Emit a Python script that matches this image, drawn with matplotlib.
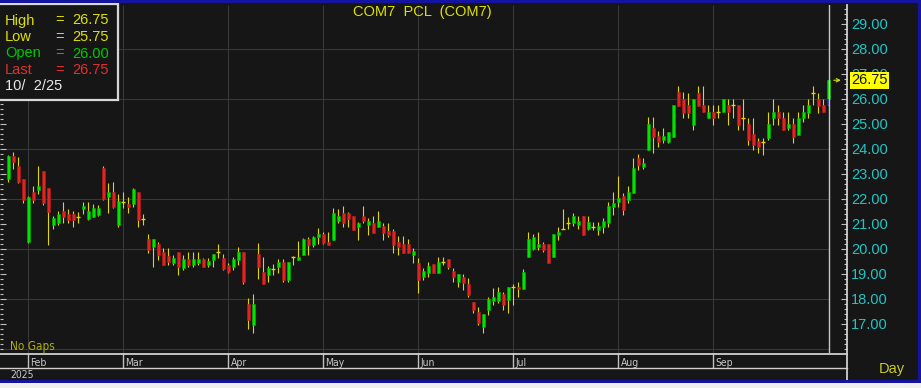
import matplotlib
matplotlib.use('Agg')
import matplotlib.pyplot as plt
from matplotlib.ticker import MultipleLocator, FixedLocator, FormatStrFormatter
from matplotlib.patches import Rectangle
from matplotlib.lines import Line2D
import numpy as np

# ---------------- data ----------------
title = 'COM7  PCL  (COM7)'
months = ['Jan', 'Feb', 'Mar', 'Apr', 'May', 'Jun', 'Jul', 'Aug', 'Sep', 'Oct']
bars_per_month = [4, 19, 21, 19, 19, 19, 21, 19, 22, 2]
year_label = '2025'
price_ticks = [17, 18, 19, 20, 21, 22, 23, 24, 25, 26, 27, 28, 29]
grid_levels = [16, 18, 20, 22, 24, 26, 28]

opens = [22.79, 23.72, 23.32, 22.79, 20.28, 22.29, 22.36, 23.12, 22.43, 20.96,
         21.05, 21.52, 21.40, 21.40, 21.29, 21.59, 21.19, 21.29, 21.36, 23.23,
         22.07, 22.29, 20.96, 21.89, 21.80, 21.79, 22.29, 21.19, 20.40, 20.07,
         20.20, 19.89, 19.72, 19.45, 19.89, 19.25, 19.60, 19.36, 19.45, 19.60,
         19.36, 19.56, 19.89, 19.63, 19.36, 19.27, 19.56, 19.89, 17.80, 16.96,
         19.80, 19.09, 18.96, 19.19, 19.27, 19.49, 18.76, 19.69, 19.56, 19.76,
         20.39, 20.16, 20.47, 20.60, 20.29, 20.36, 21.13, 21.43, 21.43, 21.32,
         20.87, 21.32, 20.96, 21.03, 20.87, 20.92, 20.73, 20.73, 20.29, 20.20,
         20.20, 19.76, 19.43, 18.87, 19.05, 19.40, 19.05, 19.49, 19.59, 19.13,
         18.69, 18.89, 18.60, 17.89, 17.49, 16.87, 17.56, 17.93, 17.93, 18.20,
         17.96, 18.49, 18.49, 18.39, 19.67, 19.99, 20.07, 20.20, 20.20, 19.67,
         20.56, 20.79, 21.03, 21.05, 20.96, 21.32, 20.79, 20.89, 20.76, 20.87,
         21.05, 21.69, 21.89, 22.12, 21.96, 22.25, 23.63, 23.27, 23.96, 24.83,
         24.52, 24.36, 24.29, 24.47, 26.29, 25.99, 25.76, 24.96, 26.25, 25.76,
         25.23, 25.49, 25.49, 25.49, 25.76, 25.76, 25.76, 25.23, 25.00, 24.60,
         24.33, 24.29, 24.43, 25.23, 25.49, 25.23, 24.83, 25.00, 24.56, 25.23,
         25.45, 26.25, 25.99, 25.76, 26.00]
highs = [23.76, 23.89, 23.69, 22.79, 22.12, 22.52, 23.32, 23.12, 22.43, 21.32,
         21.53, 21.89, 21.59, 21.53, 21.49, 21.89, 21.89, 21.80, 21.76, 23.32,
         22.63, 22.69, 22.20, 22.29, 22.09, 22.43, 22.29, 21.40, 20.60, 20.40,
         20.29, 20.03, 20.03, 19.76, 19.89, 19.76, 19.89, 19.89, 19.89, 19.63,
         19.63, 19.80, 20.20, 19.80, 19.43, 19.69, 20.09, 19.89, 18.03, 18.20,
         20.23, 19.69, 19.32, 19.40, 19.59, 19.59, 19.49, 19.72, 20.32, 20.43,
         20.49, 20.52, 20.83, 20.69, 20.69, 21.63, 21.59, 21.72, 21.49, 21.32,
         21.09, 21.72, 21.23, 21.32, 21.53, 21.03, 21.03, 20.79, 20.52, 20.52,
         20.39, 20.03, 19.63, 19.23, 19.49, 19.40, 19.69, 19.69, 19.59, 19.23,
         19.00, 19.00, 18.83, 17.89, 17.69, 17.40, 18.09, 18.43, 18.49, 18.29,
         18.49, 18.60, 18.69, 19.19, 20.69, 20.60, 20.69, 20.29, 20.20, 20.60,
         20.89, 21.59, 21.29, 21.43, 21.32, 21.32, 21.32, 21.09, 21.09, 21.23,
         21.89, 22.29, 22.92, 22.23, 22.52, 23.63, 23.80, 23.63, 25.27, 25.27,
         24.73, 24.83, 24.69, 25.76, 26.52, 26.29, 26.25, 25.99, 26.52, 26.52,
         25.76, 25.76, 25.76, 25.99, 25.99, 25.99, 25.76, 25.99, 25.23, 25.23,
         24.43, 24.43, 25.49, 25.99, 25.76, 25.49, 25.49, 25.23, 25.49, 25.76,
         25.99, 26.52, 26.25, 25.99, 26.75]
lows = [22.68, 23.19, 22.65, 21.85, 20.25, 21.85, 22.20, 21.76, 20.16, 20.79,
        20.96, 21.05, 21.05, 20.87, 21.05, 21.40, 21.16, 21.27, 21.32, 21.96,
        21.45, 21.63, 20.87, 21.63, 21.45, 21.69, 20.87, 20.96, 19.85, 19.27,
        19.56, 19.36, 19.36, 19.36, 18.96, 19.16, 19.29, 19.27, 19.36, 19.27,
        19.27, 19.27, 19.63, 19.16, 19.05, 19.16, 19.36, 18.60, 16.79, 16.65,
        18.79, 18.60, 18.69, 18.96, 19.05, 18.69, 18.69, 19.36, 19.56, 19.76,
        19.76, 20.07, 20.20, 20.20, 20.16, 20.36, 21.05, 20.87, 20.87, 20.76,
        20.36, 21.05, 20.56, 20.65, 20.87, 20.36, 20.47, 19.85, 19.76, 19.85,
        19.85, 19.45, 18.25, 18.76, 18.87, 19.05, 19.05, 19.36, 19.19, 18.69,
        18.47, 18.36, 18.07, 17.45, 16.96, 16.65, 17.36, 17.76, 17.85, 17.56,
        17.45, 17.76, 18.07, 18.39, 19.67, 19.96, 19.96, 19.89, 19.45, 19.67,
        20.36, 20.79, 20.79, 20.92, 20.79, 20.56, 20.76, 20.76, 20.56, 20.65,
        20.87, 21.36, 21.69, 21.36, 21.85, 22.25, 23.16, 23.19, 23.96, 23.85,
        24.07, 24.25, 24.25, 24.47, 25.72, 25.23, 25.23, 24.76, 25.72, 25.49,
        25.23, 24.96, 25.23, 25.49, 24.96, 25.23, 24.76, 24.76, 24.16, 23.96,
        23.85, 23.76, 24.36, 24.96, 24.96, 24.76, 24.76, 24.25, 24.56, 25.09,
        25.23, 25.76, 25.45, 25.49, 25.75]
closes = [23.72, 23.49, 22.69, 21.96, 22.09, 21.96, 22.52, 21.85, 21.49, 21.23,
          21.40, 21.27, 21.16, 21.16, 21.29, 21.72, 21.52, 21.63, 21.63, 21.99,
          22.29, 21.67, 21.92, 21.89, 21.67, 22.39, 21.16, 21.19, 19.96, 20.40,
          19.76, 19.36, 19.49, 19.63, 19.27, 19.59, 19.36, 19.59, 19.60, 19.27,
          19.53, 19.80, 19.89, 19.19, 19.09, 19.59, 19.89, 18.69, 17.16, 17.80,
          19.27, 18.60, 19.23, 19.19, 19.49, 18.76, 19.49, 19.69, 19.69, 20.39,
          20.16, 20.49, 20.60, 20.25, 20.16, 21.43, 21.32, 21.05, 21.19, 20.76,
          21.03, 21.13, 21.13, 20.65, 21.13, 20.65, 20.56, 20.16, 20.07, 19.85,
          19.85, 19.93, 18.76, 19.13, 19.32, 19.05, 19.49, 19.49, 19.27, 18.87,
          19.00, 18.63, 18.16, 17.56, 17.05, 17.40, 18.00, 18.09, 18.29, 17.76,
          18.49, 18.49, 18.39, 19.09, 20.39, 20.49, 20.20, 19.96, 19.45, 20.60,
          20.69, 20.79, 21.03, 21.32, 21.13, 20.56, 21.09, 20.89, 20.92, 21.13,
          21.72, 21.83, 22.03, 21.56, 22.29, 23.23, 23.36, 23.43, 25.00, 24.49,
          24.29, 24.52, 24.69, 25.76, 25.72, 25.45, 25.45, 25.99, 25.72, 25.49,
          25.49, 25.23, 25.49, 25.99, 25.49, 25.76, 24.96, 25.23, 24.36, 24.16,
          24.07, 24.29, 25.00, 25.49, 25.23, 24.76, 25.00, 24.47, 25.23, 25.49,
          25.76, 26.25, 25.72, 25.49, 26.75]
legend_date = '10/  2/25'

# ---------------- style ----------------
W, H = 921, 388
BG = '#161616'
GRID = '#383838'
GREEN = '#00e400'
GREEN_E = '#00b000'
RED = '#e02424'
RED_E = '#b81818'
WICK = '#e2d800'
YEL = '#e0e000'
CYAN = '#22c4c4'
LIGHT = '#d0d0d0'
BLUE = '#1414a0'
NARROW = ['Liberation Sans Narrow', 'DejaVu Sans']

plt.rcParams['font.family'] = ['Liberation Sans', 'DejaVu Sans']

fig = plt.figure(figsize=(W / 100, H / 100), dpi=100, facecolor=BG)


def fx(px):
    return px / W


def fy(py):
    return 1 - py / H


o = np.array(opens)
h = np.array(highs)
l = np.array(lows)
c = np.array(closes)
x = np.arange(len(o))

STEP = 5.0
X0 = 8.3
xmin = -X0 / STEP
xmax = (847 - X0) / STEP

# main price axes
ax = fig.add_axes([0, fy(353), fx(847), fy(5) - fy(353)])
ax.set_facecolor(BG)
ax.set_xlim(xmin, xmax)
ax.set_ylim(29 - (353 - 24) / 25, 29 + (24 - 5) / 25)
for s in ax.spines.values():
    s.set_visible(False)

month_starts = np.cumsum([0] + bars_per_month[:-1])
shown = [i for i in range(1, len(months) - 1)]  # Feb..Sep
now_x = (x[-1] + 0.14)

ax.hlines(grid_levels, xmin, now_x, color=GRID, lw=0.8, zorder=1)
ax.vlines([month_starts[i] for i in shown], *ax.get_ylim(), color=GRID, lw=0.8, zorder=1)

# candles
up = c > o
dn = c < o
eq = c == o
ax.vlines(x, l, h, color=WICK, lw=0.8, zorder=2)
ax.bar(x[up], (c - o)[up], bottom=o[up], width=0.64, color=GREEN,
       edgecolor=GREEN_E, lw=0.4, zorder=3)
ax.bar(x[dn], (o - c)[dn], bottom=c[dn], width=0.64, color=RED,
       edgecolor=RED_E, lw=0.4, zorder=3)
ax.hlines(o[eq], x[eq] - 0.4, x[eq] + 0.4, color=WICK, lw=1.0, zorder=3)
# last bar: open-to-low marker in blue
ax.bar(x[-1], o[-1] - l[-1], bottom=l[-1], width=0.64, color='#2020c8', lw=0, zorder=3.5)

# current-bar line
ax.axvline(now_x, color='#c8c8c8', lw=1.0, zorder=4)

# price axis
ax.yaxis.set_major_locator(FixedLocator(price_ticks))
ax.yaxis.set_minor_locator(MultipleLocator(0.2))
ax.yaxis.set_major_formatter(FormatStrFormatter('%.2f'))
ax.tick_params(axis='y', which='both', direction='in', left=True, right=True,
               labelleft=False, labelright=True, color='#c0c0c0',
               labelcolor=CYAN, labelsize=10.5, pad=3)
ax.tick_params(axis='y', which='major', length=4, width=0.8)
ax.tick_params(axis='y', which='minor', length=2, width=0.8)
ax.tick_params(axis='x', which='both', bottom=False, labelbottom=False)

# last price marker
ax.annotate(f'{c[-1]:.2f}', xy=(1, c[-1]), xycoords=('axes fraction', 'data'),
            xytext=(3.2, 0), textcoords='offset points', va='center', ha='left',
            fontsize=10.5, color='#141414',
            bbox=dict(boxstyle='square,pad=0.1', fc='#ffff00', ec='none'),
            annotation_clip=False, zorder=10)
ax.annotate('', xy=(x[-1] + 2.5, c[-1]), xytext=(x[-1] + 1.1, c[-1]),
            arrowprops=dict(arrowstyle='->', color=YEL, lw=0.8,
                            shrinkA=0, shrinkB=0, mutation_scale=6),
            annotation_clip=False)

fig.text(fx(10), fy(346.5), 'No Gaps', fontsize=8.5, color='#b0b000',
         va='center', ha='left', family=NARROW, fontstretch='condensed')

# date band
ax2 = fig.add_axes([0, fy(368), fx(847), fy(353) - fy(368)])
ax2.set_facecolor(BG)
ax2.set_xlim(xmin, xmax)
ax2.set_ylim(0, 1)
ax2.axis('off')
ax2.vlines([month_starts[i] for i in shown], 0, 1, color='#c0c0c0', lw=1.0)
for i in shown:
    ax2.text(month_starts[i] + 0.45, 0.35, months[i], fontsize=7.5,
             color='#c8c8c8', va='center', ha='left', family=NARROW,
             fontstretch='condensed')

fig.text(fx(10), fy(375), year_label, fontsize=7.5, color='#c8c8c8',
         va='center', ha='left', family=NARROW, fontstretch='condensed')

# band lines and axis line
fig.add_artist(Line2D([0, fx(847)], [fy(353.5), fy(353.5)], color=LIGHT, lw=1.3))
fig.add_artist(Line2D([0, fx(847)], [fy(368), fy(368)], color=LIGHT, lw=1.0))
fig.add_artist(Line2D([fx(847), fx(847)], [fy(5), fy(380)], color=LIGHT, lw=1.3))

fig.text(fx(879), fy(369), 'Day', fontsize=10.5, color='#c8c832', va='center', ha='left')

# title
fig.text(fx(422), fy(12), title, fontsize=10.5, color=YEL, ha='center', va='center')

# legend box
fig.add_artist(Rectangle((fx(-2), fy(99.5)), fx(119.5), fy(4) - fy(99.5),
                         transform=fig.transFigure, fc=BG, ec='#d8d8d8', lw=1.6, zorder=5))
rows = [('High', f'{h[-1]:.2f}', YEL),
        ('Low', f'{l[-1]:.2f}', YEL),
        ('Open', f'{o[-1]:.2f}', '#00c800'),
        ('Last', f'{c[-1]:.2f}', '#e03030')]
row_y = [20.5, 37, 53.5, 70]
for (name, val, col), yy in zip(rows, row_y):
    fig.text(fx(5), fy(yy), name, fontsize=10.5, color=col, va='center', ha='left', zorder=6)
    fig.text(fx(55), fy(yy), '=', fontsize=10.5, color=col, va='center', ha='left', zorder=6)
    fig.text(fx(72), fy(yy), val, fontsize=10.5, color=col, va='center', ha='left', zorder=6)
fig.text(fx(5), fy(86.5), legend_date, fontsize=10.5, color='#e8e8e8', va='center', ha='left', zorder=6)

# frame
fig.add_artist(Rectangle((0, fy(2.5)), 1, fy(0) - fy(2.5), transform=fig.transFigure,
                         fc=BLUE, ec='none', zorder=7))
fig.add_artist(Rectangle((fx(918), 0), fx(3), 1, transform=fig.transFigure,
                         fc=BLUE, ec='none', zorder=7))
fig.add_artist(Rectangle((0, fy(383)), 1, fy(380) - fy(383), transform=fig.transFigure,
                         fc=BLUE, ec='none', zorder=7))
fig.add_artist(Rectangle((0, 0), 1, fy(383), transform=fig.transFigure,
                         fc='#f0f0f0', ec='none', zorder=8))

fig.savefig('out.png', dpi=100, facecolor=BG)
